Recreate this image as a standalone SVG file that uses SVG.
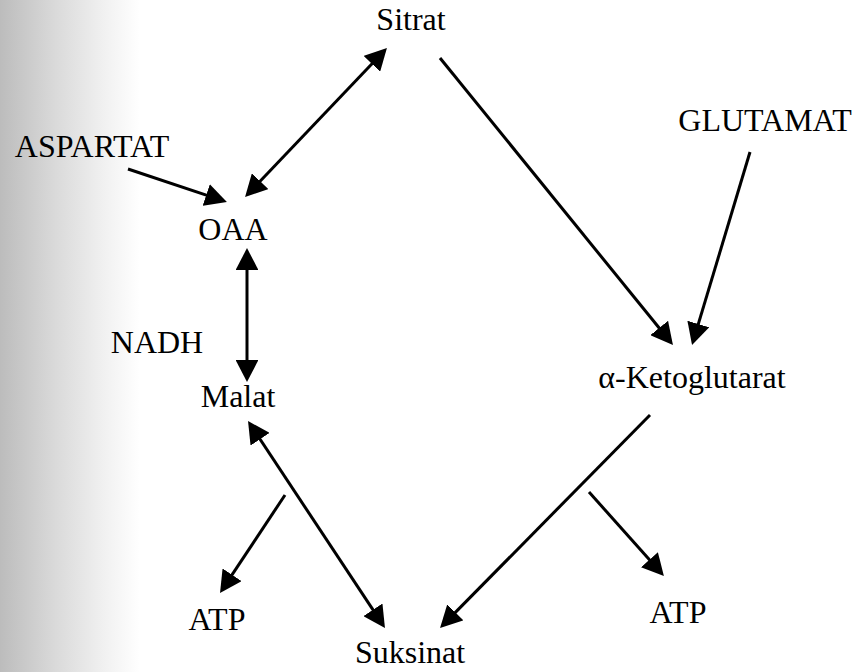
<svg xmlns="http://www.w3.org/2000/svg" width="854" height="672" viewBox="0 0 854 672">
<defs>
<linearGradient id="scan" x1="0" y1="0" x2="1" y2="0">
<stop offset="0" stop-color="#bcbcbc"/>
<stop offset="0.4" stop-color="#dadada"/>
<stop offset="0.75" stop-color="#f1f1f1"/>
<stop offset="1" stop-color="#ffffff"/>
</linearGradient>
<marker id="ah" markerWidth="7.3" markerHeight="7.6" viewBox="0 0 22 23" refX="12" refY="11.5" orient="auto-start-reverse">
<path d="M0,0 L22,11.5 L0,23 z" fill="#000"/>
</marker>
<style>
text{font-family:"Times New Roman",Times,"DejaVu Serif",serif;font-size:32px;fill:#000;text-anchor:middle}
.c line{stroke:#000;stroke-width:3;fill:none}
.one{marker-end:url(#ah)}
.two{marker-start:url(#ah);marker-end:url(#ah)}
</style>
</defs>
<rect x="0" y="0" width="854" height="672" fill="#fff"/>
<rect x="0" y="0" width="140" height="672" fill="url(#scan)"/>
<g id="sitrat"><text x="411" y="30">Sitrat</text></g>
<g id="aspartat"><text x="92" y="157">ASPARTAT</text></g>
<g id="glutamat"><text x="765" y="131">GLUTAMAT</text></g>
<g id="oaa"><text x="233" y="240">OAA</text></g>
<g id="nadh"><text x="157" y="353">NADH</text></g>
<g id="malat"><text x="238" y="407">Malat</text></g>
<g id="ketoglutarat"><text x="692" y="388">α-Ketoglutarat</text></g>
<g id="atp-left"><text x="217" y="630">ATP</text></g>
<g id="atp-right"><text x="678" y="623">ATP</text></g>
<g id="suksinat"><text x="410" y="663">Suksinat</text></g>
<g id="connectors" class="c">
<line class="two" x1="251.9" y1="189.8" x2="380.1" y2="55.2"/>
<line class="one" x1="440" y1="58" x2="666.7" y2="337.2"/>
<line class="one" x1="750" y1="152" x2="694.9" y2="335.4"/>
<line class="one" x1="128" y1="169" x2="217.5" y2="198.8"/>
<line class="two" x1="247" y1="258" x2="247" y2="372"/>
<line class="two" x1="253.5" y1="429.3" x2="379.5" y2="619.7"/>
<line class="one" x1="285" y1="495" x2="225.5" y2="584.7"/>
<line class="one" x1="650" y1="415" x2="447" y2="620.9"/>
<line class="one" x1="589" y1="492" x2="657.3" y2="568.6"/>
</g>
</svg>
